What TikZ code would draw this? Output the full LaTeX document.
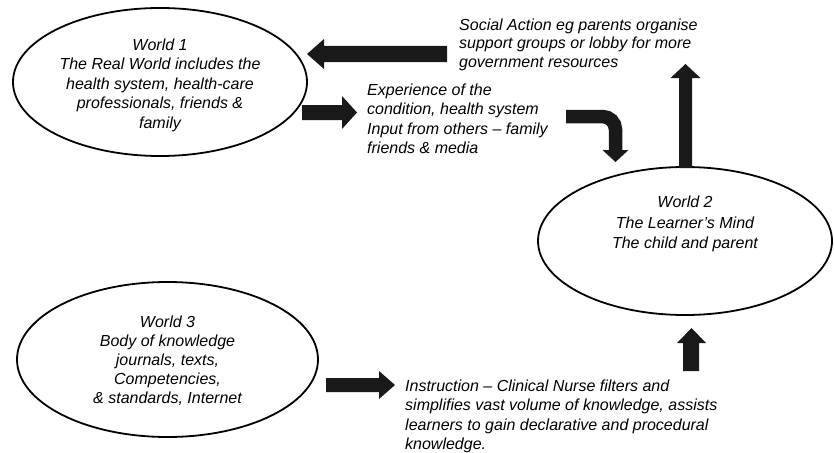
\documentclass[tikz,border=0pt]{standalone}
\usepackage{fontspec}
\setmainfont{Liberation Sans}
\usetikzlibrary{shapes.geometric}
\begin{document}
\begin{tikzpicture}[x=1pt,y=-1pt,
  world/.style={draw, line width=1.8pt, ellipse, inner sep=0pt},
  txt/.style={font=\itshape\fontsize{16}{19.5}\selectfont, inner sep=0pt},
  blk/.style={fill=black!90},
  bentarrow/.style={draw=black!90, line width=13.5pt, rounded corners=13pt}]
\useasboundingbox (0,0) rectangle (834,452);
% worlds
\node[world, minimum width=294pt, minimum height=148pt] (w1) at (160,82) {};
\node[world, minimum width=294pt, minimum height=148pt] (w2) at (685,241) {};
\node[world, minimum width=301pt, minimum height=155pt] (w3) at (167.5,359.5) {};
% texts (anchor base = baseline of the last line)
\node[txt, align=center, anchor=base] (w1t) at (160,128)
  {World 1\\The Real World includes the\\health system, health-care\\professionals, friends \&\\family};
\node[txt, align=center, anchor=base, font=\itshape\fontsize{16}{20.5}\selectfont] (w2t) at (685,248.5)
  {World 2\\The Learner’s Mind\\The child and parent};
\node[txt, align=center, anchor=base, font=\itshape\fontsize{16}{19}\selectfont] (w3t) at (167.5,403.5)
  {World 3\\Body of knowledge\\journals, texts,\\Competencies,\\\& standards, Internet};
\node[txt, align=left, anchor=base west, font=\itshape\fontsize{16}{18.5}\selectfont] (soc) at (459,67)
  {Social Action eg parents organise\\support groups or lobby for more\\government resources};
\node[txt, align=left, anchor=base west] (exp) at (367,153.5)
  {Experience of the\\condition, health system\\Input from others – family\\friends \& media};
\node[txt, align=left, anchor=base west, font=\itshape\fontsize{16}{19.3}\selectfont] (ins) at (405,449.5)
  {Instruction – Clinical Nurse filters and\\simplifies vast volume of knowledge, assists\\learners to gain declarative and procedural\\knowledge.};
% block arrows
\fill[blk] (447,46) -- (324,46) -- (324,39) -- (307,54) -- (324,69) -- (324,62) -- (447,62) -- cycle;
\fill[blk] (302,105) -- (342,105) -- (342,96) -- (357,112.5) -- (342,129) -- (342,120) -- (302,120) -- cycle;
\draw[bentarrow] (566,116.5) -| (615.5,150.5);
\fill[blk] (602.5,150) -- (628.5,150) -- (615.5,162) -- cycle;
\fill[blk] (679,168) -- (679,78) -- (670.5,78) -- (685.5,64) -- (700.5,78) -- (692,78) -- (692,168) -- cycle;
\fill[blk] (326,378) -- (379,378) -- (379,371) -- (395,385) -- (379,399) -- (379,392) -- (326,392) -- cycle;
\fill[blk] (683,371) -- (683,343) -- (677,343) -- (691.5,328) -- (706,343) -- (699,343) -- (699,371) -- cycle;
\end{tikzpicture}
\end{document}
